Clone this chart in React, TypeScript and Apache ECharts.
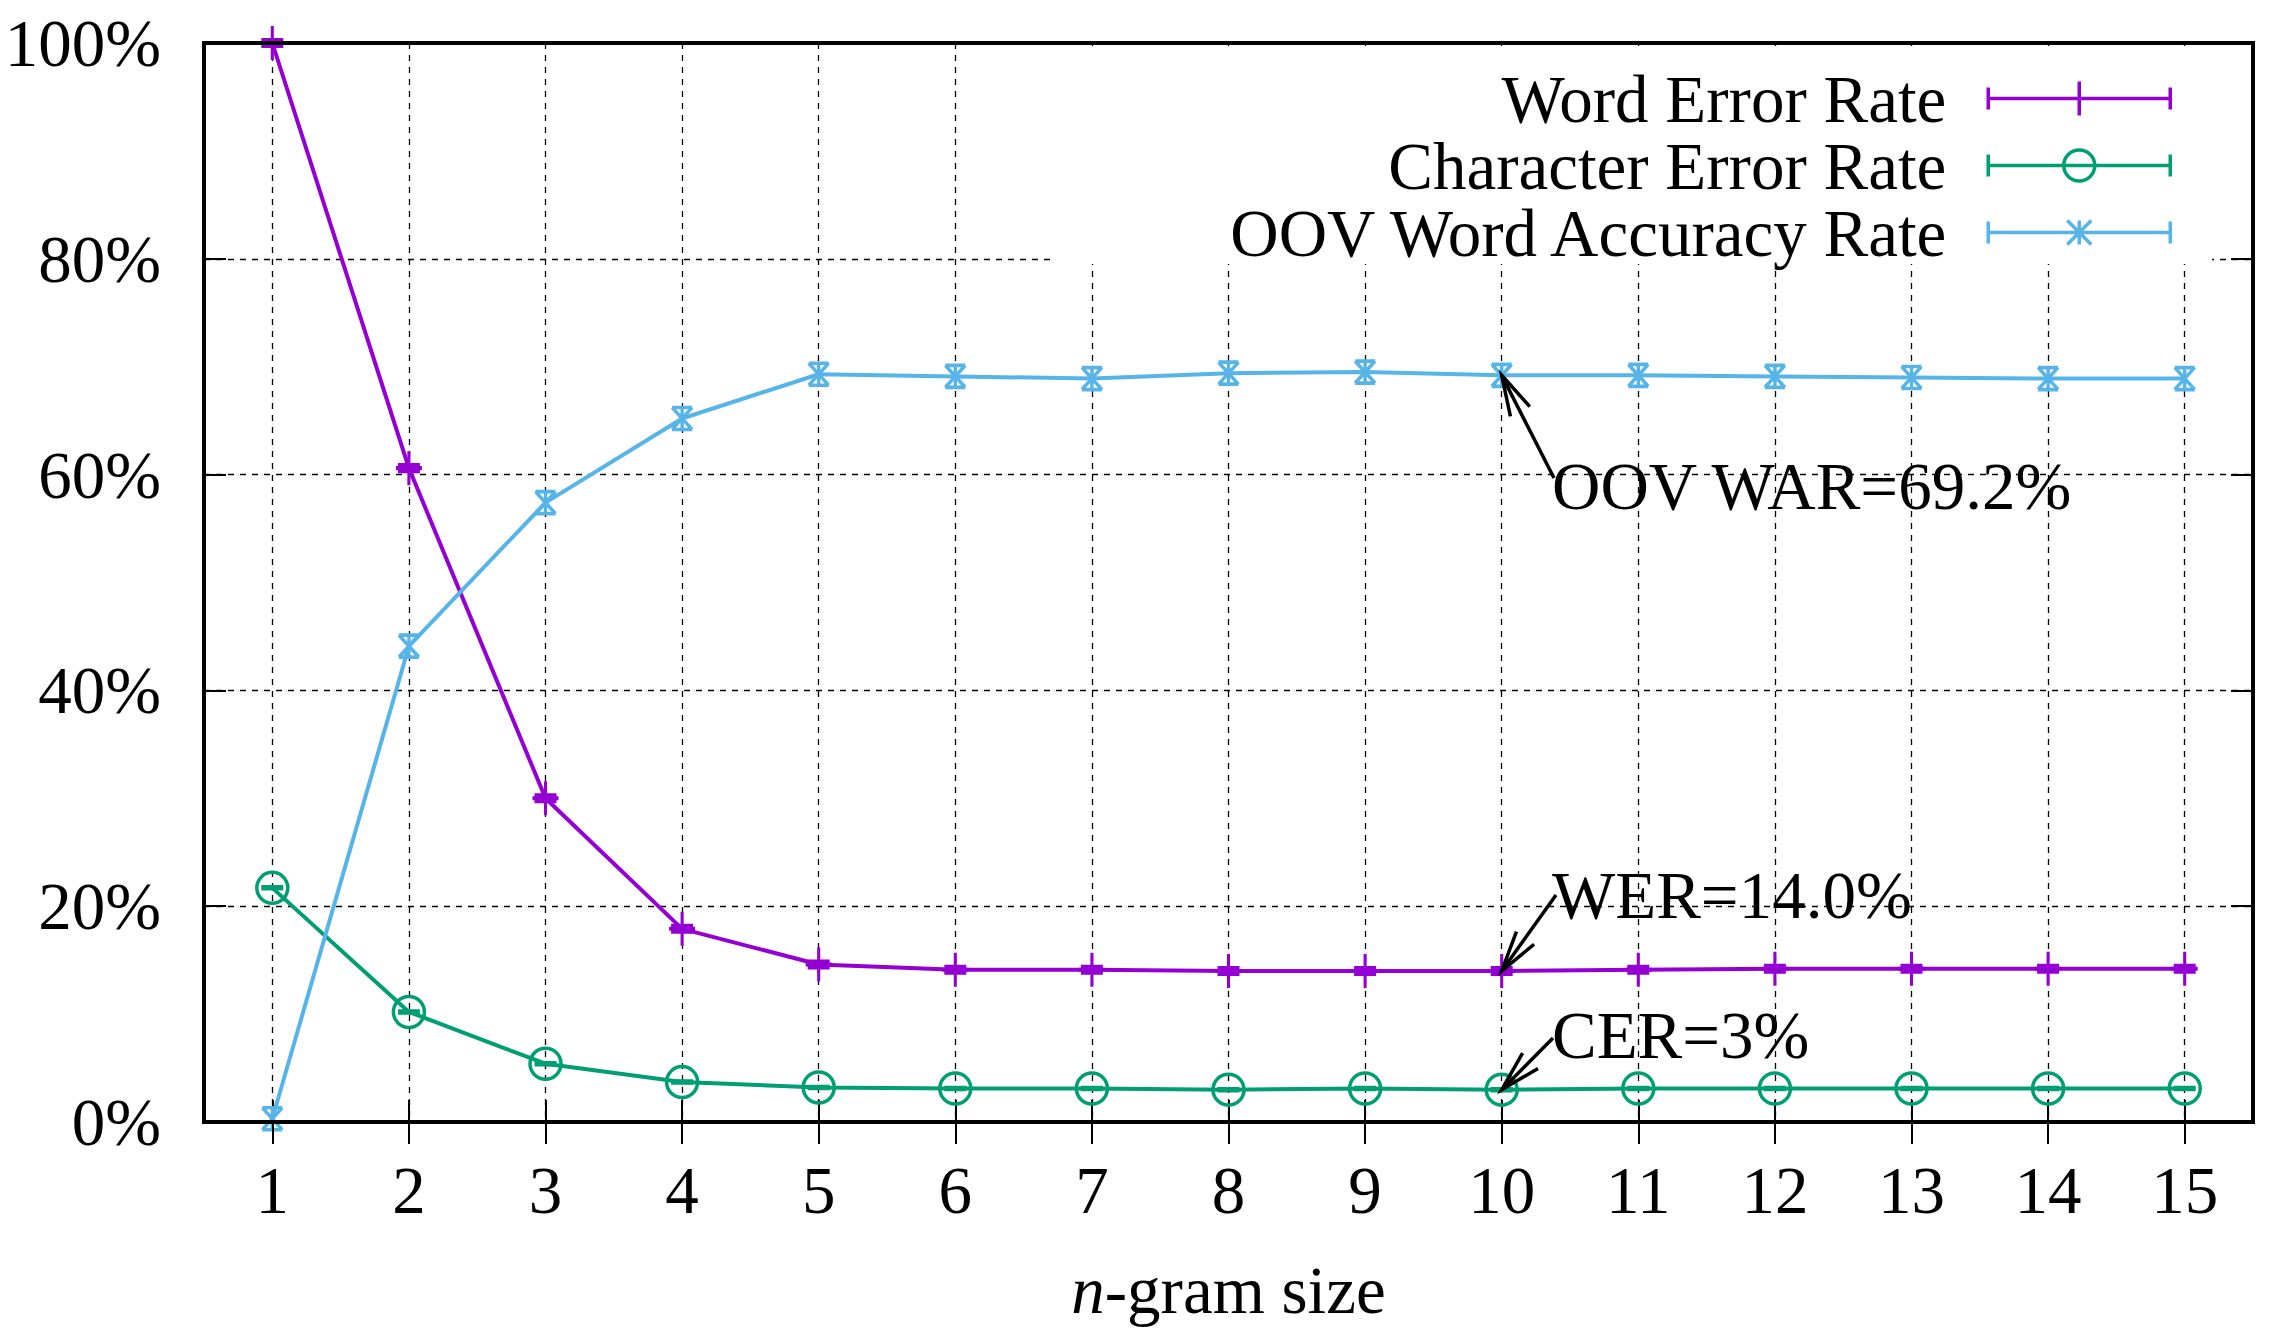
import React, { useEffect, useRef } from "react";
import * as echarts from "echarts";

// ---------- data ----------
const categories = ["1", "2", "3", "4", "5", "6", "7", "8", "9", "10", "11", "12", "13", "14", "15"];
const werValues = [100, 60.6, 30.0, 17.9, 14.6, 14.1, 14.1, 14.0, 14.0, 14.0, 14.1, 14.2, 14.2, 14.2, 14.2];
const cerValues = [21.7, 10.2, 5.4, 3.7, 3.2, 3.1, 3.1, 3.0, 3.1, 3.0, 3.1, 3.1, 3.1, 3.1, 3.1];
const oovValues = [0.3, 44.1, 57.4, 65.2, 69.3, 69.1, 68.9, 69.4, 69.5, 69.2, 69.2, 69.1, 69.0, 68.9, 68.9];
const seriesNames = ["Word Error Rate", "Character Error Rate", "OOV Word Accuracy Rate"];
const xAxisTitle = "{i|n}-gram size";
const annotationLabels = ["OOV WAR=69.2%", "WER=14.0%", "CER=3%"];
const annotationCategory = "10";

// ---------- styles ----------
const FONT = '"Liberation Serif", "Times New Roman", Times, serif';
const FS = 67;
const COLORS = ["#9400d3", "#009e73", "#56b4e9"];

const SYMBOLS = [
  "path://M0,-17L0,17M-13,0L13,0M-11,-3L11,-3M-11,3L11,3",
  "path://M15.5,0A15.5,15.5,0,1,1,-15.5,0A15.5,15.5,0,1,1,15.5,0M-11,-1L11,-1M-11,1L11,1",
  "path://M-10,-11L10,-11M-10,11L10,11M-10,-11L10,11M10,-11L-10,11M0,-11L0,11",
];
const SYMBOL_SIZES = [[26, 34], [31, 31], [20, 22]];
const LEGEND_ICONS = [
  "path://M0,6L0,28M182,6L182,28M0,17L182,17M91,0L91,34",
  "path://M91,0M91,34M0,6L0,28M182,6L182,28M0,17L182,17M106.5,17A15.5,15.5,0,1,1,75.5,17A15.5,15.5,0,1,1,106.5,17",
  "path://M91,0M91,34M0,6L0,28M182,6L182,28M0,17L182,17M91,5L91,29M79,5L103,29M103,5L79,29",
];

// annotation layout (pixels): text anchor and arrow tail
const annotationLayout = [
  { seriesIndex: 2, textX: 1552, textY: 486, fromX: 1554, fromY: 478 },
  { seriesIndex: 0, textX: 1552, textY: 895, fromX: 1556, fromY: 895 },
  { seriesIndex: 1, textX: 1552, textY: 1035, fromX: 1553, fromY: 1038 },
];

const seriesValues = [werValues, cerValues, oovValues];

function buildOption(): any {
  const dashed = { color: "#000", width: 1.3, type: [6, 6] };
  return {
    animation: false,
    backgroundColor: "#ffffff",
    textStyle: { fontFamily: FONT },
    grid: {
      left: 204,
      right: 34,
      top: 43,
      bottom: 222,
      show: true,
      borderColor: "#000",
      borderWidth: 4,
      backgroundColor: "transparent",
      containLabel: false,
      outerBoundsMode: "none",
      z: 6,
    },
    legend: {
      orient: "vertical",
      align: "right",
      right: 115,
      top: 65,
      padding: 0,
      itemWidth: 182,
      itemHeight: 34,
      itemGap: 0,
      selectedMode: false,
      z: 8,
      textStyle: {
        fontFamily: FONT,
        fontSize: FS,
        color: "#000",
        padding: [0, 37, 0, 0],
      },
      data: seriesNames.map((name, i) => ({
        name,
        icon: LEGEND_ICONS[i],
        itemStyle: { color: "rgba(0,0,0,0)", borderColor: COLORS[i], borderWidth: 3.5 },
      })),
    },
    xAxis: [
      {
        type: "category",
        data: categories,
        boundaryGap: true,
        position: "bottom",
        axisLine: { show: false },
        axisTick: { show: true, inside: true, alignWithLabel: true, length: 22, interval: 0, lineStyle: { color: "#000", width: 2 } },
        axisLabel: { show: true, interval: 0, color: "#000", fontFamily: FONT, fontSize: FS, lineHeight: 67, margin: 34 },
        splitLine: { show: true, alignWithLabel: true, interval: 0, lineStyle: dashed },
        name: xAxisTitle,
        nameLocation: "middle",
        nameGap: 134,
        nameTextStyle: {
          color: "#000",
          fontFamily: FONT,
          fontSize: FS,
          lineHeight: 67,
          rich: { i: { fontStyle: "italic", fontFamily: FONT, fontSize: FS, lineHeight: 67, color: "#000" } },
        },
      },
      {
        type: "category",
        data: categories,
        boundaryGap: true,
        position: "top",
        z: 6,
        axisLine: { show: false },
        axisTick: { show: true, inside: true, alignWithLabel: true, length: 22, interval: 0, lineStyle: { color: "#000", width: 2 } },
        axisLabel: { show: false },
        splitLine: { show: false },
      },
    ],
    yAxis: [
      {
        type: "value",
        min: 0,
        max: 100,
        interval: 20,
        axisLine: { show: false },
        axisTick: { show: true, inside: true, length: 22, lineStyle: { color: "#000", width: 2 } },
        axisLabel: { color: "#000", fontFamily: FONT, fontSize: FS, lineHeight: 67, margin: 43, formatter: "{value}%" },
        splitLine: { show: true, lineStyle: dashed },
      },
      {
        type: "value",
        min: 0,
        max: 100,
        interval: 20,
        position: "right",
        z: 6,
        axisLine: { show: false },
        axisTick: { show: true, inside: true, length: 22, lineStyle: { color: "#000", width: 2 } },
        axisLabel: { show: false },
        splitLine: { show: false },
      },
    ],
    series: seriesNames.map((name, i) => ({
      name,
      type: "line",
      xAxisIndex: 0,
      yAxisIndex: 0,
      data: seriesValues[i],
      symbol: SYMBOLS[i],
      symbolSize: SYMBOL_SIZES[i],
      showAllSymbol: true,
      clip: false,
      z: 3,
      lineStyle: { color: COLORS[i], width: 4 },
      itemStyle: { color: "rgba(0,0,0,0)", borderColor: COLORS[i], borderWidth: 3.5 },
      emphasis: { disabled: true },
    })),
  };
}

function arrowGraphics(from: number[], tip: number[]): any[] {
  const dx = from[0] - tip[0];
  const dy = from[1] - tip[1];
  const ang = Math.atan2(dy, dx);
  const len = 42;
  const spread = (15 * Math.PI) / 180;
  const h1 = [tip[0] + len * Math.cos(ang + spread), tip[1] + len * Math.sin(ang + spread)];
  const h2 = [tip[0] + len * Math.cos(ang - spread), tip[1] + len * Math.sin(ang - spread)];
  return [
    { type: "line", z: 7, silent: true, shape: { x1: from[0], y1: from[1], x2: tip[0], y2: tip[1] }, style: { stroke: "#000", lineWidth: 3.5 } },
    { type: "polyline", z: 7, silent: true, shape: { points: [h1, tip, h2] }, style: { stroke: "#000", lineWidth: 3.5, fill: null } },
  ];
}

export default function App() {
  const ref = useRef<HTMLDivElement>(null);
  useEffect(() => {
    document.body.style.margin = "0";
    if (!ref.current) return;
    const chart = echarts.init(ref.current, undefined, { renderer: "svg" });
    chart.setOption(buildOption());

    const catIdx = categories.indexOf(annotationCategory);
    const gfx: any[] = [
      // opaque key box (covers grid lines behind the legend)
      { type: "rect", z: 1, silent: true, shape: { x: 1051, y: 46, width: 1161, height: 218 }, style: { fill: "#ffffff" } },
    ];
    annotationLayout.forEach((a, k) => {
      const v = seriesValues[a.seriesIndex][catIdx];
      const tip = chart.convertToPixel({ xAxisIndex: 0, yAxisIndex: 0 }, [annotationCategory, v]) as number[];
      gfx.push(...arrowGraphics([a.fromX, a.fromY], tip));
      gfx.push({
        type: "text",
        z: 7,
        silent: true,
        x: a.textX,
        y: a.textY,
        style: {
          text: annotationLabels[k],
          fontFamily: FONT,
          fontSize: FS,
          fill: "#000",
          align: "left",
          verticalAlign: "middle",
        },
      });
    });
    chart.setOption({ graphic: gfx });

    return () => chart.dispose();
  }, []);
  return <div ref={ref} style={{ width: 2287, height: 1344 }} />;
}
